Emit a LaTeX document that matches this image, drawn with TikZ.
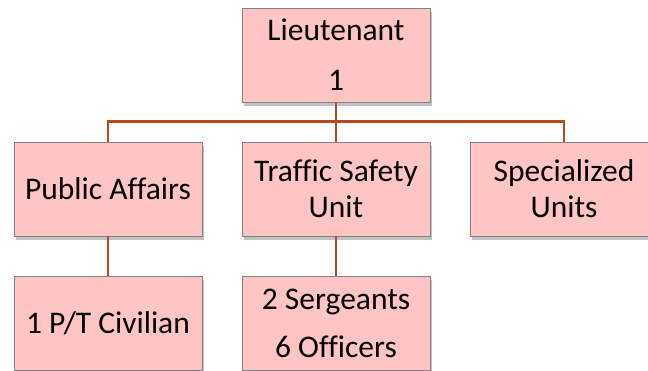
\documentclass[tikz,border=0pt]{standalone}
\usepackage{fontspec}
\setmainfont[Ligatures={NoCommon}]{Carlito}
\usetikzlibrary{shadows}
\definecolor{boxpink}{RGB}{255,196,196}
\definecolor{boxedge}{RGB}{130,130,130}
\definecolor{linkred}{RGB}{190,70,35}
\tikzset{
  unitbox/.style={draw=boxedge,line width=0.8pt,fill=boxpink,minimum width=188pt,minimum height=94pt,
    inner sep=0pt,align=center,font=\fontsize{31.5}{36}\selectfont,
    drop shadow={shadow xshift=2pt,shadow yshift=-4pt,opacity=0.4,fill=black!60}},
  link/.style={draw=linkred,line width=2.4pt}
}
\begin{document}
\begin{tikzpicture}[x=1pt,y=-1pt]
  \useasboundingbox (0,0) rectangle (648,370);
  % top
  \node[unitbox] (lt) at (336,55) {Lieutenant\\[14pt]1};
  % second row
  \node[unitbox] (pa) at (108,189) {Public Affairs};
  \node[unitbox] (ts) at (336,189) {Traffic Safety\\Unit};
  \node[unitbox] (su) at (564,189) {Specialized\\Units};
  % third row
  \node[unitbox] (pc) at (108,323) {1 P/T Civilian};
  \node[unitbox] (so) at (336,323) {2 Sergeants\\[12pt]6 Officers};
  % connectors
  \draw[link] (lt.south) -- (ts.north);
  \draw[link] (pa.north) -- ++(0,-20) -| (su.north);
  \draw[link] (pa.south) -- (pc.north);
  \draw[link] (ts.south) -- (so.north);
\end{tikzpicture}
\end{document}
